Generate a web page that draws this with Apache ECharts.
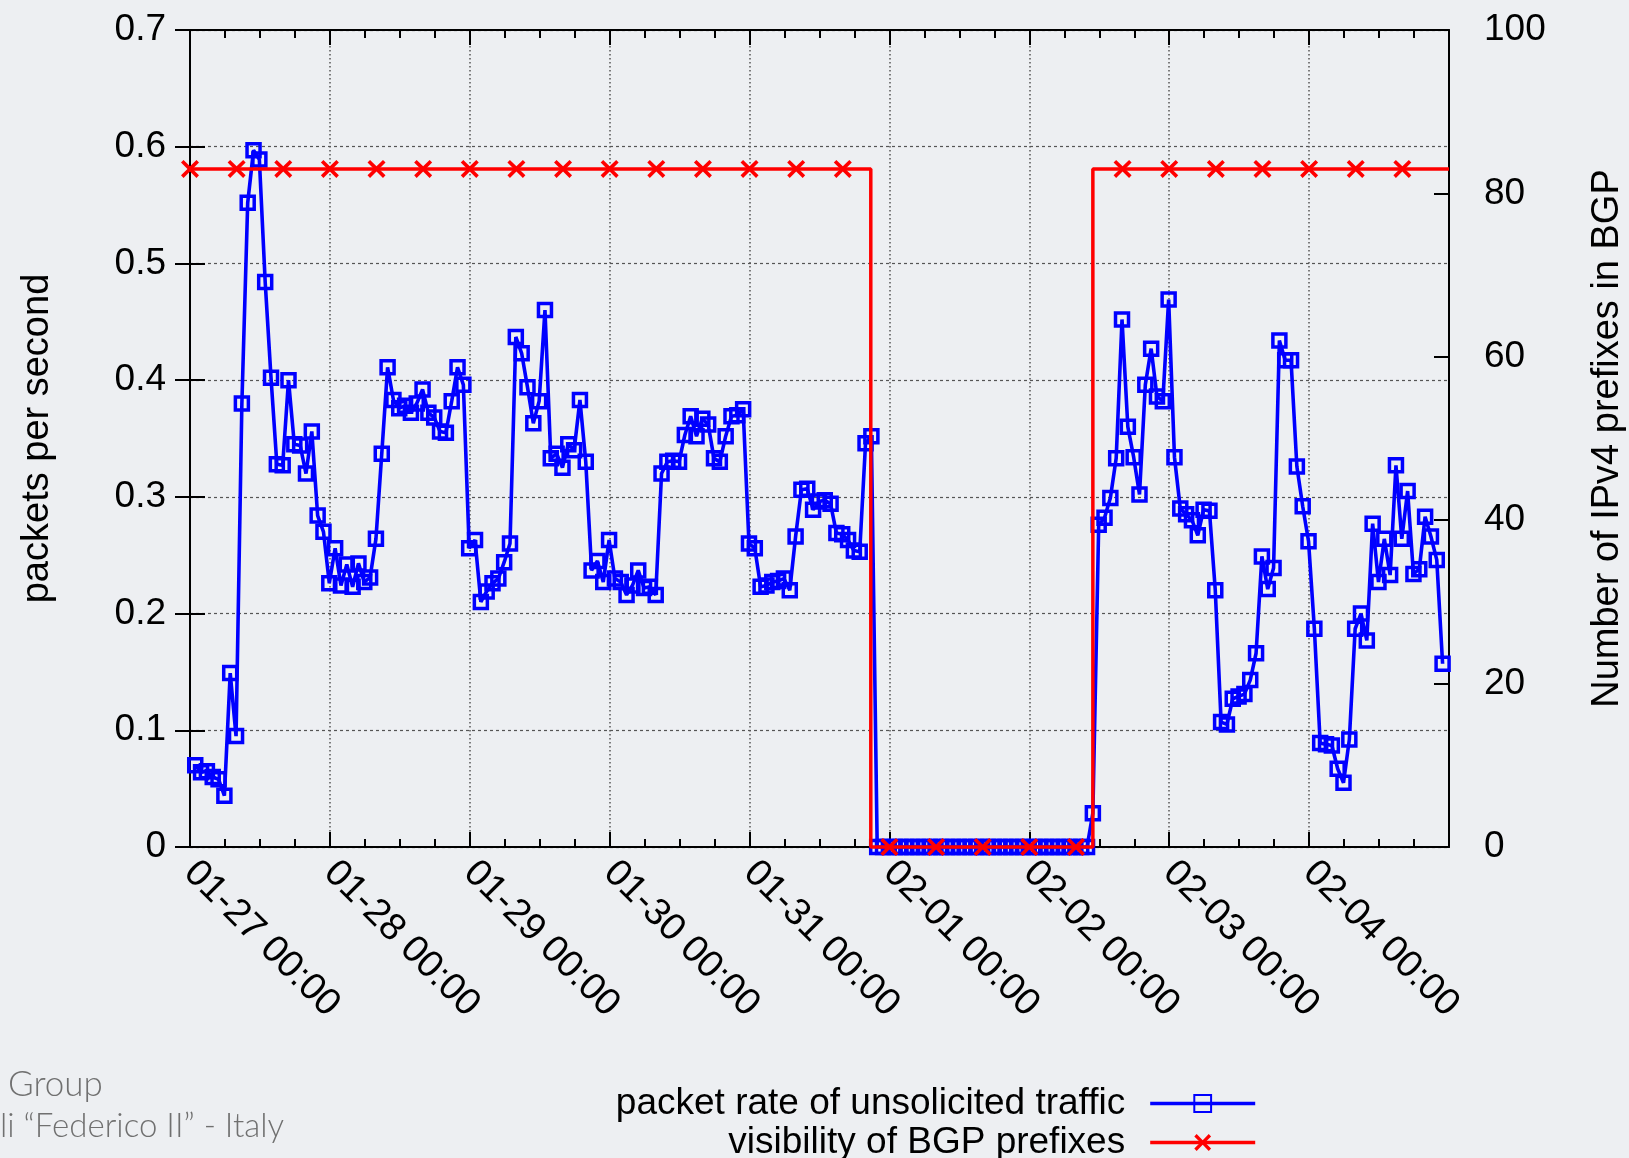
<!DOCTYPE html>
<html><head><meta charset="utf-8">
<script src="https://cdn.jsdelivr.net/npm/echarts@6/dist/echarts.min.js"></script>
<style>html,body{margin:0;padding:0;background:#EDEFF2}#chart{width:1629px;height:1158px}</style>
</head><body><div id="chart"></div>
<script>
// X axis: hours since 01-27 00:00, one tick per day
const dayTickLabels = ['01-27 00:00','01-28 00:00','01-29 00:00','01-30 00:00','01-31 00:00',
  '02-01 00:00','02-02 00:00','02-03 00:00','02-04 00:00'];
const axisEndHour = 216;
const firstSampleHour = 0.9; // blue samples are hourly, starting here

// packet rate of unsolicited traffic (packets per second), hourly, per day
const rate_0127 = [0.070,0.064,0.065,0.060,0.058,0.044,0.149,0.095,0.380,0.552,0.597,0.589,
  0.484,0.402,0.328,0.327,0.400,0.345,0.344,0.320,0.356,0.284,0.270,0.226];
const rate_0128 = [0.256,0.224,0.242,0.223,0.243,0.227,0.231,0.264,0.337,0.411,0.383,0.376,
  0.378,0.372,0.380,0.392,0.372,0.368,0.356,0.355,0.382,0.411,0.396,0.256];
const rate_0129 = [0.263,0.210,0.219,0.226,0.230,0.244,0.260,0.437,0.423,0.394,0.363,0.382,
  0.460,0.333,0.337,0.325,0.345,0.340,0.383,0.330,0.237,0.245,0.227,0.263];
const rate_0130 = [0.230,0.227,0.216,0.224,0.237,0.222,0.223,0.216,0.320,0.330,0.331,0.330,
  0.353,0.369,0.352,0.367,0.362,0.333,0.330,0.352,0.369,0.370,0.375,0.260];
const rate_0131 = [0.256,0.223,0.224,0.227,0.228,0.230,0.220,0.266,0.306,0.307,0.289,0.296,
  0.297,0.294,0.269,0.268,0.263,0.254,0.253,0.346,0.352,0,0,0];
const rate_0201 = [0,0,0,0,0,0,0,0,0,0,0,0,0,0,0,0,0,0,0,0,0,0,0,0];
const rate_0202 = [0,0,0,0,0,0,0,0,0,0,0.029,0.276,0.282,0.299,0.333,0.452,0.360,0.334,
  0.302,0.396,0.427,0.386,0.382,0.469];
const rate_0203 = [0.334,0.290,0.285,0.280,0.267,0.289,0.288,0.220,0.107,0.105,0.127,0.129,
  0.131,0.143,0.166,0.249,0.221,0.239,0.434,0.417,0.417,0.326,0.292,0.262];
const rate_0204 = [0.187,0.089,0.088,0.087,0.067,0.055,0.092,0.187,0.200,0.177,0.277,0.227,
  0.264,0.233,0.327,0.264,0.305,0.234,0.238,0.283,0.266,0.246,0.157];

// visibility of BGP prefixes (number of IPv4 prefixes), markers every 8 hours
const visMarkerHours = [0,8,16,24,32,40,48,56,64,72,80,88,96,104,112,120,128,136,144,152,
  160,168,176,184,192,200,208];
const visMarkerValues = [83,83,83,83,83,83,83,83,83,83,83,83,83,83,83,0,0,0,0,0,
  83,83,83,83,83,83,83];
const visChangeHours = [116.8,154.9];
const visChangeFrom = [83,0];
const visChangeTo = [0,83];

const FONT = 'Liberation Sans, Arial, Helvetica, sans-serif';

const rateAll = [].concat(rate_0127,rate_0128,rate_0129,rate_0130,rate_0131,rate_0201,rate_0202,rate_0203,rate_0204);
const rateData = rateAll.map((v,i)=>[firstSampleHour+i, v]);

let visPts = visMarkerHours.map((h,i)=>({value:[h, visMarkerValues[i]]}));
visChangeHours.forEach((h,i)=>{
  visPts.push({value:[h, visChangeFrom[i]], symbol:'none'});
  visPts.push({value:[h, visChangeTo[i]], symbol:'none'});
});
visPts.push({value:[axisEndHour, visMarkerValues[visMarkerValues.length-1]], symbol:'none'});
visPts = visPts.map((p,k)=>({p,k})).sort((a,b)=>a.p.value[0]-b.p.value[0] || a.k-b.k).map(o=>o.p);

const crossPath = 'path://M0,1.4L1.4,0L5,3.6L8.6,0L10,1.4L6.4,5L10,8.6L8.6,10L5,6.4L1.4,10L0,8.6L3.6,5Z';

const chart = echarts.init(document.getElementById('chart'), null, {renderer:'canvas'});
const blackLine = {show:true, onZero:false, lineStyle:{color:'#000', width:2}};
const tickStyle = {show:true, inside:true, length:15, lineStyle:{color:'#000', width:2}};
chart.setOption({
  backgroundColor:'#EDEFF2',
  animation:false,
  grid:{left:190, right:180, top:30, bottom:311, containLabel:false, outerBoundsMode:'none'},
  graphic:[
    {type:'text', left:8, top:1067, style:{text:'Group', font:'300 35px Lato, sans-serif', fill:'#707070'}},
    {type:'text', left:0, top:1110, style:{text:'li \u201cFederico II\u201d - Italy', font:'300 33px Lato, sans-serif', fill:'#707070'}}
  ],
  legend:[
    {data:['packet rate of unsolicited traffic'], right:372, top:1085, orient:'vertical', align:'right', padding:0,
     itemWidth:105, itemHeight:21, textStyle:{fontFamily:FONT, fontSize:37, color:'#000', padding:[0,20,0,0]},
     lineStyle:{width:3.6}},
    {data:['visibility of BGP prefixes'], right:372, top:1124, orient:'vertical', align:'right', padding:0,
     itemWidth:105, itemHeight:21, textStyle:{fontFamily:FONT, fontSize:37, color:'#000', padding:[0,20,0,0]},
     lineStyle:{width:3.6}}
  ],
  xAxis:[
    {type:'value', min:0, max:axisEndHour, interval:24, position:'bottom',
     axisLine:blackLine, axisTick:tickStyle,
     minorTick:{show:true, splitNumber:4, length:8, lineStyle:{color:'#000', width:2}},
     splitLine:{show:true, lineStyle:{color:'#555', width:1.5, type:[1.5,2.5]}},
     axisLabel:{show:true, rotate:-45, margin:20, fontFamily:FONT, fontSize:38, color:'#000',
       formatter:(v)=>{const k=Math.round(v/24); return (v%24===0 && dayTickLabels[k]) ? dayTickLabels[k] : '';}}
    },
    {type:'value', min:0, max:axisEndHour, interval:24, position:'top',
     axisLine:blackLine, axisTick:tickStyle,
     minorTick:{show:true, splitNumber:4, length:8, lineStyle:{color:'#000', width:2}},
     splitLine:{show:false}, axisLabel:{show:false}}
  ],
  yAxis:[
    {type:'value', min:0, max:0.7, interval:0.1, position:'left',
     name:'packets per second', nameLocation:'middle', nameRotate:90, nameGap:133,
     nameTextStyle:{fontFamily:FONT, fontSize:38, color:'#000'},
     axisLine:blackLine, axisTick:tickStyle,
     splitLine:{show:true, lineStyle:{color:'#555', width:1.2, type:[3,3]}},
     axisLabel:{margin:24, fontFamily:FONT, fontSize:37, color:'#000'}},
    {type:'value', min:0, max:100, interval:20, position:'right',
     name:'Number of IPv4 prefixes in BGP', nameLocation:'middle', nameRotate:90, nameGap:140,
     nameTextStyle:{fontFamily:FONT, fontSize:38, color:'#000'},
     axisLine:blackLine, axisTick:tickStyle,
     splitLine:{show:false},
     axisLabel:{margin:35, fontFamily:FONT, fontSize:37, color:'#000'}},
    {type:'value', min:0, max:0.7, interval:0.1, position:'right',
     axisLine:{show:false}, axisTick:tickStyle,
     splitLine:{show:false}, axisLabel:{show:false}}
  ],
  series:[
    {name:'packet rate of unsolicited traffic', type:'line', xAxisIndex:0, yAxisIndex:0,
     data:rateData, clip:false, z:3,
     symbol:'rect', symbolSize:13, showAllSymbol:true,
     itemStyle:{color:'rgba(0,0,0,0)', borderColor:'#0000ff', borderWidth:3.5},
     lineStyle:{color:'#0000ff', width:3.6}},
    {name:'visibility of BGP prefixes', type:'line', xAxisIndex:0, yAxisIndex:1,
     data:visPts, clip:false, z:4,
     symbol:crossPath, symbolSize:18, showAllSymbol:true,
     itemStyle:{color:'#ff0000'},
     lineStyle:{color:'#ff0000', width:3.5}}
  ]
});
</script></body></html>
